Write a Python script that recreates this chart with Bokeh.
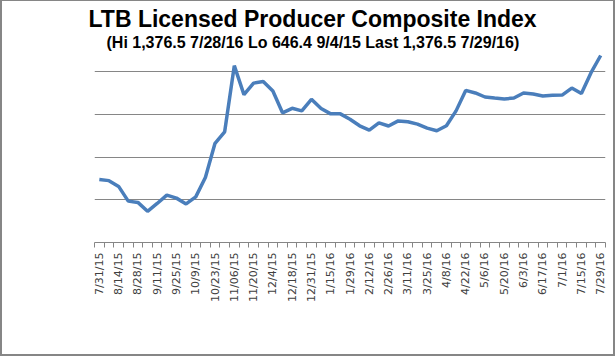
import math
from bokeh.plotting import figure
from bokeh.models import FixedTicker, Range1d, Title
from bokeh.embed import file_html
from bokeh.resources import INLINE

title_text = "LTB Licensed Producer Composite Index"
subtitle_text = "(Hi 1,376.5 7/28/16 Lo 646.4 9/4/15 Last 1,376.5 7/29/16)"

# weekly index values, 7/31/15 .. 7/29/16
values = [795, 790, 763, 694, 688, 646.4, 683, 722, 708, 681,
          714, 805, 965, 1019, 1329, 1193, 1247, 1255, 1210, 1108,
          1129, 1117, 1171, 1128, 1103, 1103, 1078, 1047, 1027, 1061,
          1046, 1070, 1066, 1055, 1036, 1024, 1047, 1117, 1213, 1201,
          1182, 1177, 1173, 1177, 1201, 1196, 1187, 1190, 1191, 1224,
          1198, 1296, 1376.5]

tick_labels = ["7/31/15", "8/14/15", "8/28/15", "9/11/15", "9/25/15", "10/9/15",
               "10/23/15", "11/06/15", "11/20/15", "12/4/15", "12/18/15", "12/31/15",
               "1/15/16", "1/29/16", "2/12/16", "2/26/16", "3/11/16", "3/25/16",
               "4/8/16", "4/22/16", "5/6/16", "5/20/16", "6/3/16", "6/17/16",
               "7/1/16", "7/15/16", "7/29/16"]

grid_values = [700, 900, 1100, 1300]

n = len(values)
xs = list(range(n))

p = figure(width=615, height=356, output_backend="svg", toolbar_location=None,
           x_range=Range1d(-0.5, n - 0.5), y_range=Range1d(500, 1400),
           min_border_left=92, min_border_right=12, min_border_top=49,
           min_border_bottom=115,
           styles={"border": "2px solid #868686", "border-top": "1px solid #868686",
                   "box-sizing": "border-box"})
p.outline_line_color = None
p.background_fill_color = "white"
p.border_fill_color = "white"

p.line(xs, values, line_color="#4A7EBB", line_width=3.5)

p.yaxis.visible = False
p.ygrid.ticker = FixedTicker(ticks=grid_values)
p.ygrid.grid_line_color = "#868686"
p.ygrid.grid_line_width = 1
p.xgrid.visible = False

label_pos = list(range(0, n, 2))
p.xaxis.ticker = FixedTicker(ticks=label_pos, minor_ticks=[i - 0.5 for i in range(n + 1)])
p.xaxis.major_label_overrides = {pos: lab for pos, lab in zip(label_pos, tick_labels)}
p.xaxis.major_label_orientation = math.pi / 2
p.xaxis.major_label_text_font = "DejaVu Sans"
p.xaxis.major_label_text_font_size = "11px"
p.xaxis.major_label_text_color = "#404040"
p.xaxis.major_label_standoff = 5
p.xaxis.major_tick_out = 0
p.xaxis.major_tick_in = 0
p.xaxis.minor_tick_out = 5
p.xaxis.minor_tick_in = 0
p.xaxis.minor_tick_line_color = "#868686"
p.xaxis.axis_line_color = "#868686"
p.xaxis.axis_line_width = 1

sub = Title(text=subtitle_text, align="left", text_font="Liberation Sans",
            text_font_size="16px", text_font_style="bold", text_color="black",
            offset=12, standoff=0)
main = Title(text=title_text, align="left", text_font="Liberation Sans",
             text_font_size="23px", text_font_style="bold", text_color="black",
             offset=-6, standoff=0)
p.add_layout(sub, "above")
p.add_layout(main, "above")

open("out.html", "w").write(file_html(p, INLINE))
